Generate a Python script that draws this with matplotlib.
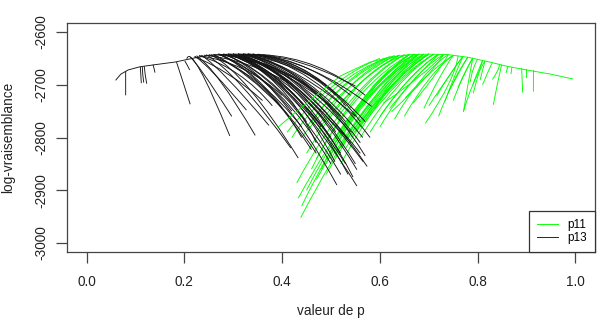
import matplotlib
matplotlib.use("Agg")
from matplotlib import pyplot as plt
from matplotlib.path import Path
from matplotlib.patches import PathPatch

# ---- data ----
# p13 (black): ridge line + branches, each branch = (start, middle, end) points
p13_ridge_p = [0.060, 0.070, 0.085, 0.109, 0.140, 0.181, 0.222, 0.252, 0.293, 0.334, 0.375, 0.416, 0.460, 0.500, 0.549]
p13_ridge_ll = [-2691, -2680, -2672, -2666, -2662, -2657, -2649, -2644, -2642, -2642, -2645, -2652, -2665, -2680, -2702]

p13_p = [
    [0.080, 0.080, 0.080], [0.110, 0.111, 0.112], [0.114, 0.115, 0.117],
    [0.118, 0.120, 0.123], [0.136, 0.138, 0.140], [0.184, 0.197, 0.212],
    [0.201, 0.206, 0.211], [0.205, 0.232, 0.293], [0.212, 0.240, 0.297],
    [0.222, 0.262, 0.327], [0.225, 0.275, 0.345], [0.235, 0.290, 0.373],
    [0.245, 0.320, 0.418], [0.255, 0.335, 0.433], [0.27, 0.36, 0.46],
    [0.28, 0.39, 0.512], [0.30, 0.42, 0.553], [0.31, 0.43, 0.553],
    [0.32, 0.44, 0.574], [0.31, 0.43, 0.566], [0.34, 0.46, 0.583],
    [0.29, 0.40, 0.50], [0.30, 0.41, 0.52], [0.29, 0.39, 0.48],
    [0.31, 0.42, 0.54], [0.32, 0.43, 0.53], [0.30, 0.40, 0.49],
    [0.33, 0.44, 0.55], [0.28, 0.37, 0.45], [0.27, 0.35, 0.42],
    [0.26, 0.33, 0.40], [0.30, 0.42, 0.535], [0.33, 0.45, 0.565],
    [0.34, 0.46, 0.57], [0.35, 0.45, 0.54], [0.29, 0.39, 0.47],
    [0.27, 0.36, 0.44], [0.31, 0.42, 0.51], [0.30, 0.41, 0.508],
    [0.32, 0.43, 0.56],
    [0.26, 0.36, 0.45], [0.27, 0.38, 0.48], [0.28, 0.39, 0.50],
    [0.29, 0.41, 0.52], [0.30, 0.42, 0.54], [0.31, 0.44, 0.56],
    [0.32, 0.45, 0.57], [0.30, 0.43, 0.55], [0.29, 0.41, 0.53],
    [0.27, 0.39, 0.50], [0.26, 0.37, 0.47], [0.25, 0.35, 0.44],
    [0.24, 0.33, 0.42], [0.23, 0.32, 0.40], [0.23, 0.31, 0.38],
    [0.22, 0.29, 0.36], [0.33, 0.46, 0.58], [0.34, 0.46, 0.56],
    [0.33, 0.44, 0.53], [0.32, 0.42, 0.51], [0.31, 0.40, 0.49],
    [0.36, 0.47, 0.57], [0.31, 0.43, 0.545], [0.28, 0.40, 0.52],
]
p13_ll = [
    [-2674, -2697, -2720], [-2666, -2681, -2697], [-2666, -2681, -2696],
    [-2665, -2681, -2698], [-2662, -2669, -2677], [-2657, -2694, -2737],
    [-2655, -2663, -2672], [-2651, -2672, -2797], [-2648, -2680, -2760],
    [-2646, -2680, -2748], [-2645, -2695, -2796], [-2644, -2690, -2777],
    [-2643, -2705, -2820], [-2643, -2710, -2839], [-2642, -2703, -2823],
    [-2642, -2720, -2890], [-2642, -2725, -2892], [-2642, -2710, -2861],
    [-2642, -2705, -2855], [-2642, -2705, -2846], [-2642, -2672, -2741],
    [-2642, -2700, -2800], [-2642, -2705, -2830], [-2642, -2690, -2780],
    [-2642, -2700, -2810], [-2642, -2685, -2770], [-2642, -2693, -2770],
    [-2642, -2685, -2760], [-2642, -2690, -2770], [-2642, -2685, -2750],
    [-2643, -2685, -2745], [-2642, -2715, -2870], [-2642, -2695, -2800],
    [-2642, -2683, -2770], [-2642, -2668, -2720], [-2642, -2700, -2810],
    [-2642, -2700, -2800], [-2642, -2698, -2790], [-2642, -2712, -2846],
    [-2642, -2700, -2830],
    [-2643, -2660, -2700], [-2642, -2668, -2720], [-2642, -2675, -2740],
    [-2642, -2680, -2760], [-2642, -2690, -2790], [-2642, -2695, -2810],
    [-2642, -2700, -2835], [-2642, -2710, -2850], [-2642, -2712, -2850],
    [-2642, -2715, -2850], [-2643, -2715, -2830], [-2643, -2695, -2780],
    [-2644, -2662, -2700], [-2645, -2670, -2720], [-2645, -2680, -2740],
    [-2647, -2680, -2730], [-2642, -2690, -2800], [-2642, -2680, -2770],
    [-2642, -2670, -2740], [-2642, -2665, -2720], [-2642, -2660, -2700],
    [-2643, -2665, -2720], [-2642, -2715, -2875], [-2642, -2718, -2870],
]

# p11 (green): ridge line + branches
p11_ridge_p = [0.392, 0.437, 0.48, 0.52, 0.58, 0.62, 0.66, 0.70, 0.74, 0.78, 0.82, 0.86, 0.90, 0.95, 0.994]
p11_ridge_ll = [-2780, -2745, -2712, -2683, -2657, -2648, -2643, -2642, -2643, -2648, -2656, -2665, -2672, -2680, -2689]

p11_p = [
    [0.67, 0.56, 0.438], [0.66, 0.55, 0.433], [0.65, 0.54, 0.430],
    [0.64, 0.54, 0.45], [0.65, 0.55, 0.46], [0.63, 0.53, 0.44],
    [0.66, 0.56, 0.47], [0.67, 0.57, 0.48], [0.68, 0.58, 0.49],
    [0.69, 0.60, 0.51], [0.70, 0.61, 0.52], [0.64, 0.55, 0.47],
    [0.68, 0.59, 0.50], [0.70, 0.62, 0.55], [0.71, 0.64, 0.57],
    [0.72, 0.66, 0.60], [0.62, 0.53, 0.46], [0.69, 0.60, 0.53],
    [0.73, 0.69, 0.624], [0.74, 0.71, 0.668], [0.73, 0.68, 0.607],
    [0.76, 0.74, 0.693], [0.77, 0.75, 0.733], [0.79, 0.78, 0.771],
    [0.81, 0.80, 0.791], [0.77, 0.74, 0.716], [0.75, 0.70, 0.652],
    [0.815, 0.79, 0.771], [0.849, 0.84, 0.832], [0.89, 0.891, 0.892],
    [0.914, 0.914, 0.914], [0.862, 0.860, 0.858], [0.90, 0.90, 0.90],
    [0.815, 0.81, 0.805], [0.80, 0.79, 0.785], [0.72, 0.67, 0.62],
    [0.71, 0.63, 0.56], [0.75, 0.72, 0.69], [0.78, 0.76, 0.74],
    [0.87, 0.869, 0.868],
    [0.66, 0.55, 0.44], [0.66, 0.555, 0.45], [0.67, 0.57, 0.47],
    [0.68, 0.585, 0.49], [0.68, 0.59, 0.50], [0.69, 0.605, 0.52],
    [0.70, 0.615, 0.53], [0.70, 0.62, 0.54], [0.71, 0.635, 0.56],
    [0.72, 0.65, 0.58], [0.73, 0.665, 0.60], [0.74, 0.685, 0.63],
    [0.75, 0.70, 0.65], [0.62, 0.51, 0.42], [0.60, 0.50, 0.41],
    [0.63, 0.54, 0.45], [0.64, 0.56, 0.48], [0.66, 0.58, 0.51],
    [0.68, 0.61, 0.55], [0.70, 0.64, 0.59], [0.77, 0.74, 0.70],
    [0.78, 0.75, 0.72], [0.79, 0.77, 0.75], [0.83, 0.82, 0.81],
    [0.845, 0.84, 0.83], [0.79, 0.775, 0.76], [0.81, 0.80, 0.79],
]
p11_ll = [
    [-2642, -2760, -2952], [-2643, -2745, -2915], [-2643, -2730, -2886],
    [-2644, -2715, -2830], [-2643, -2725, -2860], [-2645, -2710, -2800],
    [-2643, -2720, -2840], [-2642, -2725, -2860], [-2642, -2720, -2850],
    [-2642, -2715, -2830], [-2642, -2715, -2820], [-2644, -2705, -2790],
    [-2642, -2712, -2810], [-2642, -2700, -2790], [-2642, -2695, -2770],
    [-2642, -2690, -2760], [-2647, -2700, -2770], [-2642, -2700, -2780],
    [-2643, -2690, -2751], [-2643, -2685, -2735], [-2643, -2685, -2735],
    [-2645, -2700, -2773], [-2646, -2690, -2732], [-2649, -2700, -2751],
    [-2654, -2685, -2716], [-2646, -2685, -2722], [-2644, -2680, -2725],
    [-2655, -2700, -2751], [-2662, -2700, -2738], [-2668, -2692, -2715],
    [-2672, -2692, -2713], [-2665, -2671, -2678], [-2670, -2678, -2687],
    [-2655, -2673, -2691], [-2651, -2673, -2695], [-2643, -2690, -2745],
    [-2642, -2700, -2780], [-2644, -2690, -2745], [-2647, -2680, -2715],
    [-2667, -2674, -2680],
    [-2643, -2752, -2930], [-2643, -2740, -2900], [-2642, -2735, -2880],
    [-2642, -2735, -2870], [-2642, -2722, -2840], [-2642, -2725, -2850],
    [-2642, -2712, -2820], [-2642, -2705, -2800], [-2642, -2705, -2800],
    [-2642, -2700, -2790], [-2643, -2695, -2780], [-2643, -2690, -2765],
    [-2644, -2690, -2760], [-2647, -2705, -2800], [-2650, -2705, -2790],
    [-2645, -2690, -2780], [-2644, -2685, -2770], [-2643, -2680, -2760],
    [-2642, -2680, -2750], [-2642, -2678, -2745], [-2646, -2685, -2740],
    [-2648, -2695, -2760], [-2649, -2685, -2730], [-2658, -2678, -2700],
    [-2661, -2675, -2690], [-2650, -2675, -2705], [-2654, -2676, -2700],
]

x_ticks = [0.0, 0.2, 0.4, 0.6, 0.8, 1.0]
y_ticks = [-3000, -2900, -2800, -2700, -2600]

plt.rcParams['font.family'] = ['Liberation Sans', 'DejaVu Sans']

fig = plt.figure(figsize=(5.99, 3.18), dpi=100)
ax = fig.add_axes([67 / 599, 1 - 252 / 318, (595 - 67) / 599, (252 - 23) / 318])


def draw_branch(p, ll, color):
    # smooth curve that passes through start, middle and end point
    cx = 2 * p[1] - (p[0] + p[2]) / 2
    cy = 2 * ll[1] - (ll[0] + ll[2]) / 2
    path = Path([(p[0], ll[0]), (cx, cy), (p[2], ll[2])],
                [Path.MOVETO, Path.CURVE3, Path.CURVE3])
    ax.add_patch(PathPatch(path, fill=False, edgecolor=color, lw=lw))


lw = 0.65
green = '#00ff00'
black = '#151515'
for p, ll in zip(p11_p, p11_ll):
    draw_branch(p, ll, green)
ax.plot(p11_ridge_p, p11_ridge_ll, color=green, lw=lw, label='p11')
for p, ll in zip(p13_p, p13_ll):
    draw_branch(p, ll, black)
ax.plot(p13_ridge_p, p13_ridge_ll, color=black, lw=lw, label='p13')

ax.set_xlim(-0.04, 1.04)
ax.set_ylim(-3017, -2583)
ax.set_xticks(x_ticks)
ax.set_xticklabels(['%.1f' % v for v in x_ticks])
ax.set_yticks(y_ticks)
ax.set_yticklabels([str(v) for v in y_ticks], rotation=90, va='center')

for s in ax.spines.values():
    s.set_color('#444444')
    s.set_linewidth(0.9)
ax.tick_params(axis='both', direction='out', length=8, width=0.9,
               color='#444444', labelcolor='#222222', labelsize=9.8)
ax.tick_params(axis='x', pad=8.5)
ax.tick_params(axis='y', pad=5.5)

fig.text(331 / 599, 1 - 311 / 318, 'valeur de p', ha='center', va='center',
         fontsize=9.8, color='#222222')
fig.text(8 / 599, 1 - 137 / 318, 'log-vraisemblance', ha='center', va='center',
         rotation=90, fontsize=9.8, color='#222222')

leg = ax.legend(loc='lower right', borderaxespad=0, fancybox=False,
                framealpha=1, edgecolor='#333333', fontsize=8.5,
                handlelength=1.8, handletextpad=0.8, borderpad=0.65,
                labelspacing=0.12)
leg.get_frame().set_linewidth(0.9)

fig.savefig('out.png', dpi=100)
